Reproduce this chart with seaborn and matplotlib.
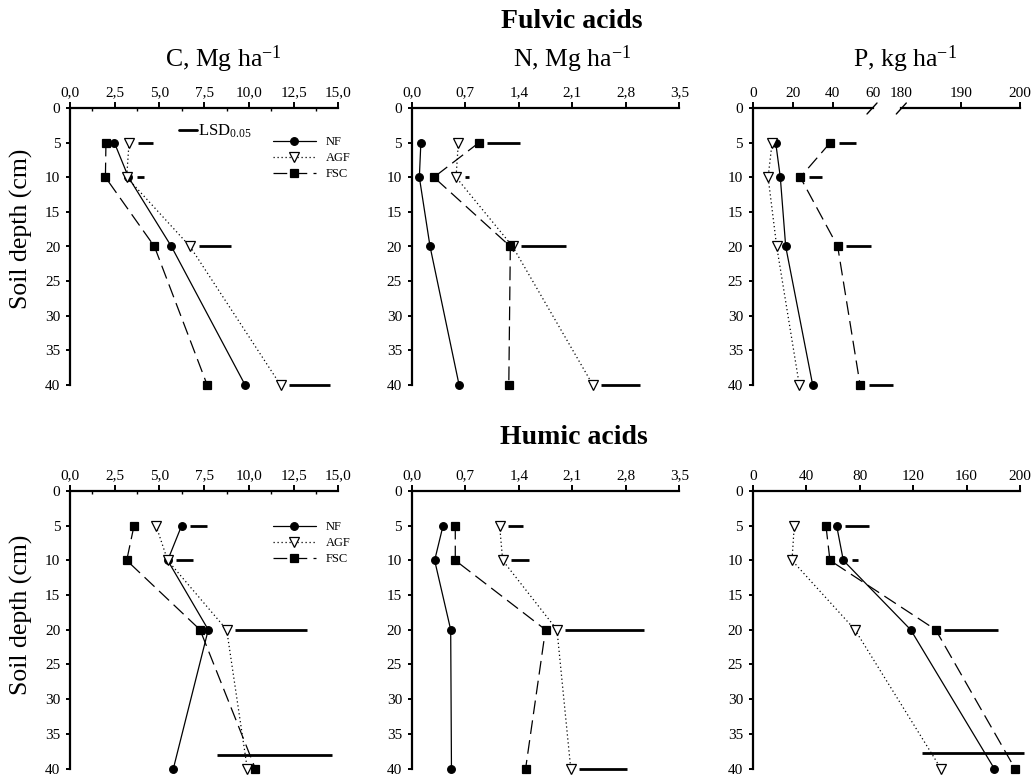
import matplotlib
matplotlib.use("Agg")
import matplotlib.pyplot as plt
import seaborn as sns
import pandas as pd
from matplotlib.lines import Line2D
from matplotlib import transforms

# ---------------- data ----------------
depths = [5, 10, 20, 40]
treatments = ["NF", "AGF", "FSC"]

# Fulvic acids
fa_C_NF = [2.48, 3.27, 5.67, 9.79]
fa_C_AGF = [3.30, 3.17, 6.71, 11.77]
fa_C_FSC = [2.01, 1.98, 4.72, 7.67]
fa_C_LSD = [0.89, 0.41, 1.83, 2.27]

fa_N_NF = [0.12, 0.10, 0.24, 0.62]
fa_N_AGF = [0.61, 0.58, 1.32, 2.37]
fa_N_FSC = [0.88, 0.29, 1.29, 1.27]
fa_N_LSD = [0.43, 0.06, 0.59, 0.51]

fa_P_NF = [11.5, 13.8, 16.5, 30.0]
fa_P_AGF = [9.7, 7.7, 12.0, 23.3]
fa_P_FSC = [38.8, 23.8, 42.5, 53.7]
fa_P_LSD = [8.8, 6.5, 12.2, 12.3]

# Humic acids
ha_C_NF = [6.24, 5.46, 7.73, 5.78]
ha_C_AGF = [4.81, 5.46, 8.76, 9.91]
ha_C_FSC = [3.58, 3.17, 7.27, 10.36]
ha_C_LSD = [0.93, 0.93, 4.00, 6.41]

ha_N_NF = [0.41, 0.30, 0.51, 0.52]
ha_N_AGF = [1.15, 1.19, 1.90, 2.08]
ha_N_FSC = [0.57, 0.57, 1.75, 1.49]
ha_N_LSD = [0.20, 0.235, 1.03, 0.62]

ha_P_NF = [62.8, 67.8, 118.2, 180.7]
ha_P_AGF = [31.1, 29.4, 76.5, 140.8]
ha_P_FSC = [54.8, 57.8, 136.9, 196.2]
ha_P_LSD = [18.0, 5.0, 40.4, 76.0]

# LSD bars for 40 cm that are drawn raised (depth, start value)
ha_C_LSD40_raised = (38.1, 8.22)
ha_P_LSD40_raised = (37.8, 127.0)

depth_ticks = [0, 5, 10, 15, 20, 25, 30, 35, 40]
C_ticks = [0, 2.5, 5, 7.5, 10, 12.5, 15]
C_labels = ["0,0", "2,5", "5,0", "7,5", "10,0", "12,5", "15,0"]
N_ticks = [0, 0.7, 1.4, 2.1, 2.8, 3.5]
N_labels = ["0,0", "0,7", "1,4", "2,1", "2,8", "3,5"]
faP_left_ticks = [0, 20, 40, 60]
faP_right_ticks = [180, 190, 200]
haP_ticks = [0, 40, 80, 120, 160, 200]

# ---------------- style ----------------
sns.set_style("ticks")
plt.rcParams["font.family"] = ["Liberation Serif", "DejaVu Serif"]
plt.rcParams["mathtext.fontset"] = "custom"
plt.rcParams["mathtext.rm"] = "Liberation Serif"
plt.rcParams["mathtext.it"] = "Liberation Serif:italic"
plt.rcParams["mathtext.bf"] = "Liberation Serif:bold"
plt.rcParams["mathtext.default"] = "rm"
for k in ["text.color", "axes.labelcolor", "xtick.color", "ytick.color",
          "xtick.labelcolor", "ytick.labelcolor", "axes.edgecolor"]:
    plt.rcParams[k] = "black"

W, H = 1036, 778
fig = plt.figure(figsize=(W / 100, H / 100), dpi=100)
fig.patch.set_facecolor("white")

styles = {
    "NF": dict(marker="o", markersize=5.5, markerfacecolor="black", linestyle="-"),
    "AGF": dict(marker="v", markersize=6.5, markerfacecolor="white", linestyle=(0, (1, 2.2))),
    "FSC": dict(marker="s", markersize=5.5, markerfacecolor="black", linestyle=(0, (11, 5))),
}


def px_axes(x0, x1, y0, y1):
    return fig.add_axes([x0 / W, 1 - y1 / H, (x1 - x0) / W, (y1 - y0) / H])


def style_axes(ax, xlim, ticks, labels, show_y=True):
    ax.set_xlim(*xlim)
    ax.set_ylim(40, 0)
    ax.xaxis.tick_top()
    ax.set_xticks(ticks)
    ax.set_xticklabels(labels)
    ax.set_facecolor("none")
    for s in ["bottom", "right"]:
        ax.spines[s].set_visible(False)
    for s in ["top", "left"]:
        ax.spines[s].set_linewidth(1.6)
        ax.spines[s].set_color("black")
    ax.tick_params(axis="x", which="major", direction="out", length=4, width=1.4,
                   labelsize=11, pad=2, top=True, bottom=False, colors="black")
    if show_y:
        ax.set_yticks(depth_ticks)
        ax.tick_params(axis="y", which="major", direction="out", length=3, width=1.4,
                       labelsize=11, pad=4, left=True, colors="black")
    else:
        ax.set_yticks([])
        ax.spines["left"].set_visible(False)
    ax.set_xlabel("")
    ax.set_ylabel("")
    ax.grid(False)


def draw_series(ax, series):
    for t, vals in zip(treatments, series):
        df = pd.DataFrame({"value": vals, "depth": depths})
        sns.lineplot(data=df, x="value", y="depth", orient="y", estimator=None,
                     errorbar=None, sort=True, color="black", linewidth=0.9,
                     markeredgecolor="black", markeredgewidth=0.9, clip_on=False,
                     legend=False, ax=ax, **styles[t])


def draw_lsd(ax, series, lsd, raised=None):
    off = transforms.offset_copy(ax.transData, fig=fig, x=8.5, y=0, units="dots")
    for i, (d, L) in enumerate(zip(depths, lsd)):
        if raised is not None and d == 40:
            dd, x0 = raised
            ax.plot([x0, x0 + L], [dd, dd], color="black", lw=2.0, clip_on=False,
                    solid_capstyle="butt")
            continue
        xmax = max(s[i] for s in series)
        ax.plot([xmax, xmax + L], [d, d], color="black", lw=2.0, clip_on=False,
                transform=off, solid_capstyle="butt")


def add_legend(ax, top_px):
    handles = []
    for t in treatments:
        st = styles[t]
        handles.append(Line2D([], [], color="black", lw=0.9, marker=st["marker"],
                              markersize=st["markersize"], markerfacecolor=st["markerfacecolor"],
                              markeredgecolor="black", markeredgewidth=0.9,
                              linestyle=st["linestyle"]))
    leg = ax.legend(handles, treatments, loc="upper left",
                    bbox_to_anchor=(272.5 / W, 1 - top_px / H), bbox_transform=fig.transFigure,
                    frameon=False, fontsize=9, handlelength=3.5, handletextpad=0.75,
                    labelspacing=0.32, borderpad=0, borderaxespad=0, numpoints=1)
    for txt in leg.get_texts():
        txt.set_color("black")


cols = [(70, 338.3), (411.7, 679.3), (752.7, 1020)]
top_y = (108, 385)
bot_y = (491, 768.5)

# ---------- Fulvic row ----------
ax = px_axes(*cols[0], *top_y)
draw_series(ax, [fa_C_NF, fa_C_AGF, fa_C_FSC])
style_axes(ax, (0, 15), C_ticks, C_labels)
ax.set_xticks([1.25, 3.75, 6.25, 8.75, 11.25, 13.75], minor=True)
ax.tick_params(axis="x", which="minor", direction="in", length=2.5, width=1.0, top=True, bottom=False)
draw_lsd(ax, [fa_C_NF, fa_C_AGF, fa_C_FSC], fa_C_LSD)
add_legend(ax, 136)
# LSD key
fig.add_artist(Line2D([179.3 / W, 197.3 / W], [1 - 130 / H, 1 - 130 / H], color="black", lw=2.0))
fig.text(197.8 / W, 1 - 136 / H, "LSD$_{0.05}$", fontsize=12, ha="left", va="baseline")

ax = px_axes(*cols[1], *top_y)
draw_series(ax, [fa_N_NF, fa_N_AGF, fa_N_FSC])
style_axes(ax, (0, 3.5), N_ticks, N_labels)
draw_lsd(ax, [fa_N_NF, fa_N_AGF, fa_N_FSC], fa_N_LSD)

# broken P axis
axL = px_axes(752.7, 872.7, *top_y)
draw_series(axL, [fa_P_NF, fa_P_AGF, fa_P_FSC])
style_axes(axL, (0, 60), faP_left_ticks, [str(v) for v in faP_left_ticks])
draw_lsd(axL, [fa_P_NF, fa_P_AGF, fa_P_FSC], fa_P_LSD)
axR = px_axes(901.3, 1020, *top_y)
style_axes(axR, (180, 200), faP_right_ticks, [str(v) for v in faP_right_ticks], show_y=False)
axL.set_xticks([0, 20, 40])
axL.set_xticks([60], minor=True)
axL.set_xticklabels(["60"], minor=True)
axL.tick_params(axis="x", which="minor", length=0, labelsize=11, pad=6, top=True,
                bottom=False, colors="black")
axR.xaxis.get_major_ticks()[0].tick2line.set_visible(False)
# break marks
for xpx in [872.0, 901.3]:
    fig.add_artist(Line2D([(xpx - 5) / W, (xpx + 5) / W],
                          [1 - (top_y[0] + 6) / H, 1 - (top_y[0] - 5) / H],
                          color="black", lw=1.0))

# ---------- Humic row ----------
ax = px_axes(*cols[0], *bot_y)
draw_series(ax, [ha_C_NF, ha_C_AGF, ha_C_FSC])
style_axes(ax, (0, 15), C_ticks, C_labels)
ax.set_xticks([1.25, 3.75, 6.25, 8.75, 11.25, 13.75], minor=True)
ax.tick_params(axis="x", which="minor", direction="in", length=2.5, width=1.0, top=True, bottom=False)
draw_lsd(ax, [ha_C_NF, ha_C_AGF, ha_C_FSC], ha_C_LSD, raised=ha_C_LSD40_raised)
add_legend(ax, 521)

ax = px_axes(*cols[1], *bot_y)
draw_series(ax, [ha_N_NF, ha_N_AGF, ha_N_FSC])
style_axes(ax, (0, 3.5), N_ticks, N_labels)
draw_lsd(ax, [ha_N_NF, ha_N_AGF, ha_N_FSC], ha_N_LSD)

ax = px_axes(*cols[2], *bot_y)
draw_series(ax, [ha_P_NF, ha_P_AGF, ha_P_FSC])
style_axes(ax, (0, 200), haP_ticks, [str(v) for v in haP_ticks])
draw_lsd(ax, [ha_P_NF, ha_P_AGF, ha_P_FSC], ha_P_LSD, raised=ha_P_LSD40_raised)

# ---------- titles & labels ----------
fig.text(572 / W, 1 - 21 / H, "Fulvic acids", fontsize=20, fontweight="bold",
         ha="center", va="center")
fig.text(574 / W, 1 - 437 / H, "Humic acids", fontsize=20, fontweight="bold",
         ha="center", va="center")
fig.text(223 / W, 1 - 59 / H, "C, Mg ha$^{-1}$", fontsize=18.5, ha="center", va="center")
fig.text(572 / W, 1 - 59 / H, "N, Mg ha$^{-1}$", fontsize=18.5, ha="center", va="center")
fig.text(905 / W, 1 - 59 / H, "P, kg ha$^{-1}$", fontsize=18.5, ha="center", va="center")
fig.text(21.7 / W, 1 - 229 / H, "Soil depth (cm)", fontsize=18.5, rotation=90,
         ha="center", va="center")
fig.text(21.7 / W, 1 - 615 / H, "Soil depth (cm)", fontsize=18.5, rotation=90,
         ha="center", va="center")

fig.savefig("out.png", dpi=100, facecolor="white")
